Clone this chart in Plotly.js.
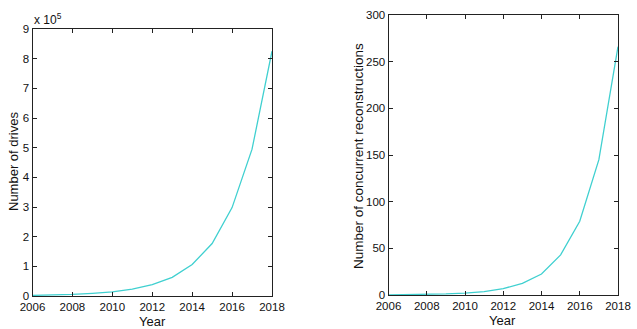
<!DOCTYPE html>
<html>
<head>
<meta charset="utf-8">
<script src="https://cdn.plot.ly/plotly-3.0.1.min.js"></script>
<style>html,body{margin:0;padding:0;background:#fff;}#chart{width:637px;height:329px;}</style>
</head>
<body>
<div id="chart"></div>
<script>
const years = [2006, 2007, 2008, 2009, 2010, 2011, 2012, 2013, 2014, 2015, 2016, 2017, 2018];
const drives = [2000, 3300, 5500, 9000, 14000, 23000, 38000, 63000, 106000, 177000, 298000, 495000, 825000];
const reconstructions = [0.2, 0.3, 0.6, 1.1, 2.0, 3.7, 6.8, 12.5, 22.5, 43, 79, 145, 266];
const xTicks = [2006, 2008, 2010, 2012, 2014, 2016, 2018];
const driveTickLabels = ['0','1','2','3','4','5','6','7','8','9'];
const driveTickVals = driveTickLabels.map(function(t){ return Number(t) * 1e5; });
const reconTicks = [0, 50, 100, 150, 200, 250, 300];

const lineColor = 'rgb(64,208,208)';
const fam = 'Liberation Sans, Arial, sans-serif';
const font = {family: fam, size: 11.5, color: '#111'};
const axisCommon = {
  showline: true, linecolor: '#222', linewidth: 1, mirror: 'ticks',
  ticks: 'inside', ticklen: 4, tickcolor: '#222', showgrid: false, zeroline: false,
  tickfont: font
};

const data = [
  {x: years, y: drives, type: 'scatter', mode: 'lines', line: {color: lineColor, width: 1.3}, xaxis: 'x', yaxis: 'y', hoverinfo: 'skip'},
  {x: years, y: reconstructions, type: 'scatter', mode: 'lines', line: {color: lineColor, width: 1.3}, xaxis: 'x2', yaxis: 'y2', hoverinfo: 'skip'}
];

function ann(text, px, py, angle, size) {
  return {text: text, xref: 'paper', yref: 'paper', x: px/637, y: 1 - py/329,
    xanchor: 'center', yanchor: 'middle', showarrow: false, textangle: angle || 0,
    font: {family: fam, size: size, color: '#111'}};
}

const layout = {
  width: 637, height: 329,
  margin: {l: 0, r: 0, t: 0, b: 0},
  paper_bgcolor: '#fff', plot_bgcolor: '#fff',
  showlegend: false,
  font: font,
  xaxis: Object.assign({}, axisCommon, {
    domain: [32.5/637, 272/637], range: [2006, 2018], tickvals: xTicks, anchor: 'y'
  }),
  yaxis: Object.assign({}, axisCommon, {
    domain: [33/329, 300/329], range: [0, 9e5], tickvals: driveTickVals, ticktext: driveTickLabels, anchor: 'x'
  }),
  xaxis2: Object.assign({}, axisCommon, {
    domain: [388.5/637, 618/637], range: [2006, 2018], tickvals: xTicks, anchor: 'y2'
  }),
  yaxis2: Object.assign({}, axisCommon, {
    domain: [34/329, 314/329], range: [0, 300], tickvals: reconTicks, anchor: 'x2'
  }),
  annotations: [
    {text: 'x 10<sup>5</sup>', xref: 'paper', yref: 'paper', x: 32/637, y: 300/329, xanchor: 'left', yanchor: 'bottom', showarrow: false, font: {family: fam, size: 12, color: '#111'}},
    ann('Number of drives', 13, 162, -90, 13),
    ann('Number of concurrent reconstructions', 359, 156, -90, 13.5),
    ann('Year', 152, 321, 0, 13),
    ann('Year', 503, 320, 0, 13)
  ]
};

Plotly.newPlot('chart', data, layout, {displayModeBar: false, staticPlot: true});
</script>
</body>
</html>
